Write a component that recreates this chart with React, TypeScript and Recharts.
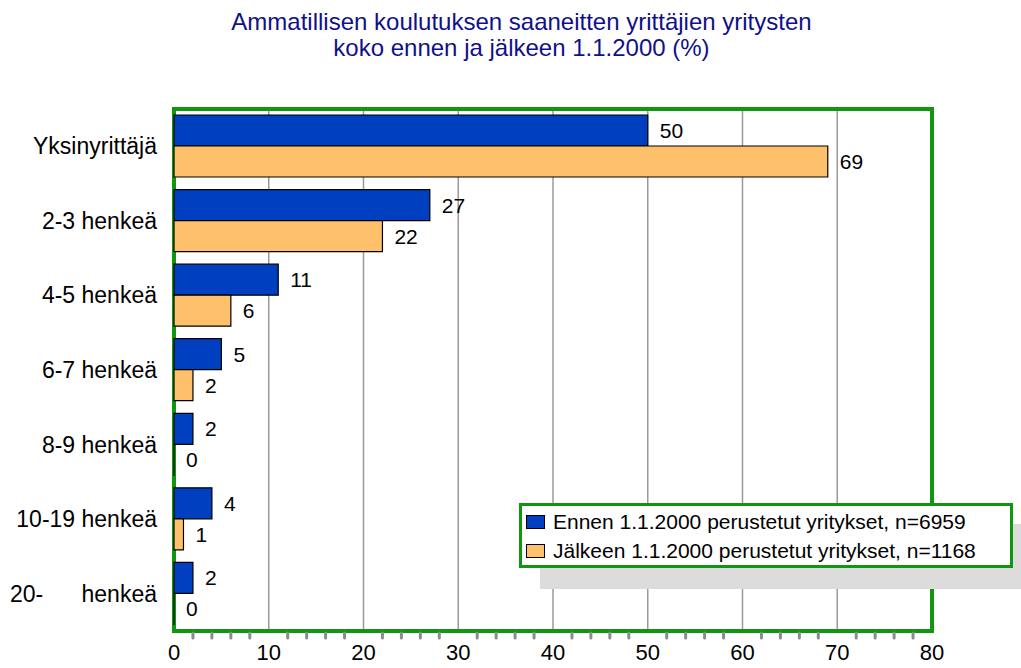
import { BarChart, Bar, XAxis, YAxis, CartesianGrid, ReferenceArea, LabelList, Legend } from "recharts";

const CATEGORIES = ["Yksinyrittäjä", "2-3 henkeä", "4-5 henkeä", "6-7 henkeä", "8-9 henkeä", "10-19 henkeä", "20-      henkeä"];
const ENNEN = [50, 27, 11, 5, 2, 4, 2];
const JALKEEN = [69, 22, 6, 2, 0, 1, 0];
const X_TICKS = [0, 2, 4, 6, 8, 10, 12, 14, 16, 18, 20, 22, 24, 26, 28, 30, 32, 34, 36, 38, 40, 42, 44, 46, 48, 50, 52, 54, 56, 58, 60, 62, 64, 66, 68, 70, 72, 74, 76, 78, 80];
const MAJOR_TICKS = [0, 10, 20, 30, 40, 50, 60, 70, 80];

const SERIES = [
  { key: "ennen", label: "Ennen 1.1.2000 perustetut yritykset, n=6959", color: "#0040c0" },
  { key: "jalkeen", label: "Jälkeen 1.1.2000 perustetut yritykset, n=1168", color: "#ffc06b" },
] as const;

const FONT = '"Liberation Sans", Arial, sans-serif';
const GREEN = "#119611";

const data = CATEGORIES.map((name, i) => ({ name, ennen: ENNEN[i], jalkeen: JALKEEN[i] }));

function XTick({ x, y, payload }: any) {
  const v = payload.value;
  if (MAJOR_TICKS.includes(v)) {
    return (
      <text x={x} y={y + 21} textAnchor="middle" dominantBaseline="central" fontSize={22} fill="#000" fontFamily={FONT}>
        {v}
      </text>
    );
  }
  return <line x1={x} x2={x} y1={y + 2} y2={y + 7} stroke="#8c8c8c" strokeWidth={3} strokeLinecap="round" />;
}

function YTick({ x, y, payload }: any) {
  return (
    <text x={x} y={y} textAnchor="end" dominantBaseline="central" fontSize={23} fill="#000" fontFamily={FONT} xmlSpace="preserve" style={{ whiteSpace: "pre" }}>
      {payload.value}
    </text>
  );
}

function LegendBox() {
  return (
    <div
      style={{
        width: 484,
        border: `3px solid ${GREEN}`,
        background: "#fff",
        boxShadow: "21px 21px 0 #dcdcdc",
        padding: "1px 0 0 4px",
        fontFamily: FONT,
        fontSize: 21,
        lineHeight: "29px",
        color: "#000",
      }}
    >
      {SERIES.map((s) => (
        <div key={s.key} style={{ display: "flex", alignItems: "center", whiteSpace: "nowrap" }}>
          <span style={{ width: 17, height: 12, background: s.color, border: "1.5px solid #000", marginRight: 8, flex: "none" }} />
          {s.label}
        </div>
      ))}
    </div>
  );
}

// zero values still need a (hidden, under the frame) rect so their "0" label shows
const zeroPoint = (value: any) => (value === 0 ? 0.01 : 0);

export default function App() {
  return (
    <div style={{ position: "absolute", left: 0, top: 0, width: 1021, height: 668, overflow: "hidden", background: "#fff", fontFamily: FONT }}>
      <div style={{ position: "absolute", left: 11, top: 9, width: 1021, textAlign: "center", fontSize: 24, lineHeight: "26px", color: "#10108a" }}>
        Ammatillisen koulutuksen saaneitten yrittäjien yritysten
        <br />
        koko ennen ja jälkeen 1.1.2000 (%)
      </div>
      <div style={{ position: "absolute", left: 0, top: 0 }}>
        <BarChart
          width={1021}
          height={668}
          data={data}
          layout="vertical"
          margin={{ top: 109, right: 89, left: 0, bottom: 0 }}
          barCategoryGap={6}
          barGap={0}
        >
          <CartesianGrid horizontal={false} verticalValues={MAJOR_TICKS} stroke="#9a9a9a" strokeWidth={1.5} />
          <XAxis
            type="number"
            domain={[0, 80]}
            ticks={X_TICKS}
            interval={0}
            height={37}
            axisLine={false}
            tickLine={false}
            tickSize={0}
            tickMargin={0}
            tick={<XTick />}
          />
          <YAxis
            type="category"
            dataKey="name"
            width={174}
            axisLine={false}
            tickLine={false}
            tickSize={0}
            tickMargin={17}
            interval={0}
            tick={<YTick />}
          />
          <Legend layout="vertical" align="center" verticalAlign="middle" wrapperStyle={{ left: 519, top: 503, width: 490 }} content={() => <LegendBox />} />
          {SERIES.map((s) => (
            <Bar
              key={s.key}
              dataKey={s.key}
              name={s.label}
              fill={s.color}
              stroke="#000"
              strokeWidth={1.2}
              minPointSize={zeroPoint}
              isAnimationActive={false}
            >
              <LabelList dataKey={s.key} position="right" offset={12} fontSize={21} fill="#000" fontFamily={FONT} />
            </Bar>
          ))}
          <ReferenceArea x1={0} x2={80} fill="none" stroke={GREEN} strokeWidth={4} ifOverflow="visible" />
        </BarChart>
      </div>
    </div>
  );
}
